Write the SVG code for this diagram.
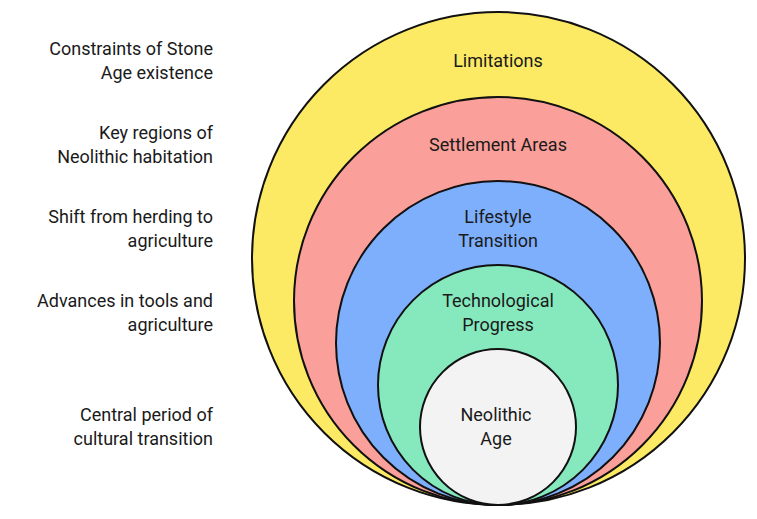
<svg xmlns="http://www.w3.org/2000/svg" width="757" height="519" viewBox="0 0 757 519">
<style>
text{font-family:Roboto,"Liberation Sans",sans-serif;font-size:18px;fill:#1a1a1a}
.l{text-anchor:end}
.c{text-anchor:middle}
circle{stroke:#111;stroke-width:2}
</style>
<rect width="757" height="519" fill="#fff"/>
<g id="limitations"><circle cx="498.5" cy="258.5" r="246.5" fill="#fdea64"/><text class="c" x="498" y="67">Limitations</text></g>
<g id="settlement"><circle cx="498" cy="301" r="204" fill="#fa9f99"/><text class="c" x="498" y="151">Settlement Areas</text></g>
<g id="lifestyle"><circle cx="498" cy="343" r="162" fill="#7eaffc"/><text class="c" x="498" y="223">Lifestyle</text><text class="c" x="498" y="247">Transition</text></g>
<g id="tech"><circle cx="498" cy="385" r="120" fill="#86e9bd"/><text class="c" x="498" y="307">Technological</text><text class="c" x="498" y="331">Progress</text></g>
<g id="neolithic"><circle cx="498" cy="427" r="78" fill="#f3f3f3"/><text class="c" x="496" y="421">Neolithic</text><text class="c" x="496" y="445">Age</text></g>
<g id="labels">
<text class="l" x="213" y="55">Constraints of Stone</text><text class="l" x="213" y="79">Age existence</text>
<text class="l" x="213" y="139">Key regions of</text><text class="l" x="213" y="163">Neolithic habitation</text>
<text class="l" x="213" y="223">Shift from herding to</text><text class="l" x="213" y="247">agriculture</text>
<text class="l" x="213" y="307">Advances in tools and</text><text class="l" x="213" y="331">agriculture</text>
<text class="l" x="213" y="421">Central period of</text><text class="l" x="213" y="445">cultural transition</text>
</g>
<g id="connectors"></g>
</svg>
